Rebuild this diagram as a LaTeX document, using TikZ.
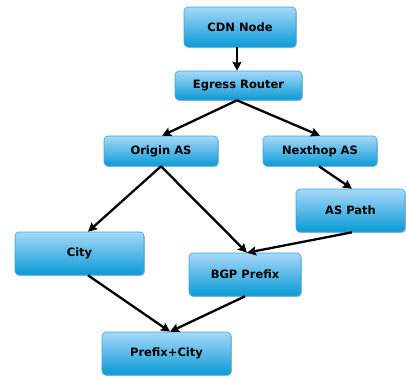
\documentclass[tikz,border=0pt]{standalone}
\usepackage{fontspec}
\setmainfont{DejaVu Sans}
\usetikzlibrary{arrows.meta,shadows}
\definecolor{boxtop}{HTML}{A6D8F8}
\definecolor{boxbot}{HTML}{0A9AD6}
\definecolor{boxline}{HTML}{3AA7DC}
\tikzset{
  box/.style={rectangle, rounded corners=4pt, draw=boxline, line width=0.6pt,
    top color=boxtop, bottom color=boxbot, inner sep=0pt,
    font=\bfseries\fontsize{11.5}{13}\selectfont, text=black,
    drop shadow={shadow xshift=0.8pt, shadow yshift=-1.2pt, opacity=0.25, fill=black}},
  link/.style={line width=2.3pt, draw=black, -{Stealth[length=9pt,width=9pt,inset=1.5pt]}}
}
\begin{document}
\begin{tikzpicture}[x=1pt,y=-1pt]
\useasboundingbox (0,0) rectangle (406,378);
\node[box, minimum width=112pt, minimum height=40pt] (cdn) at (240,27) {CDN Node};
\node[box, minimum width=127pt, minimum height=29pt] (egress) at (238.5,85.5) {Egress Router};
\node[box, minimum width=114pt, minimum height=30pt] (origin) at (161,151) {Origin AS};
\node[box, minimum width=114pt, minimum height=30pt] (nexthop) at (320,151) {Nexthop AS};
\node[box, minimum width=109pt, minimum height=43pt] (aspath) at (350.5,210.5) {AS Path};
\node[box, minimum width=129pt, minimum height=43pt] (city) at (79.5,253.5) {City};
\node[box, minimum width=112pt, minimum height=43pt] (bgp) at (245,274.5) {BGP Prefix};
\node[box, minimum width=129pt, minimum height=43pt] (pc) at (166.5,353.5) {Prefix+City};
\draw[link] ([xshift=-3pt]cdn.south) -- ([xshift=-1.5pt]egress.north);
\draw[link] ([xshift=-1.5pt]egress.south) -- ([xshift=1pt]origin.north);
\draw[link] ([xshift=-1.5pt]egress.south) -- (nexthop.north);
\draw[link] (origin.south) -- ([xshift=8.5pt]city.north);
\draw[link] (origin.south) -- ([xshift=2pt]bgp.north);
\draw[link] ([xshift=-1pt]nexthop.south) -- ([xshift=1.5pt]aspath.north);
\draw[link] ([xshift=1.5pt]aspath.south) -- ([xshift=2pt]bgp.north);
\draw[link] ([xshift=8.5pt]city.south) -- ([xshift=3.5pt]pc.north);
\draw[link] (bgp.south) -- ([xshift=3.5pt]pc.north);
\end{tikzpicture}
\end{document}
